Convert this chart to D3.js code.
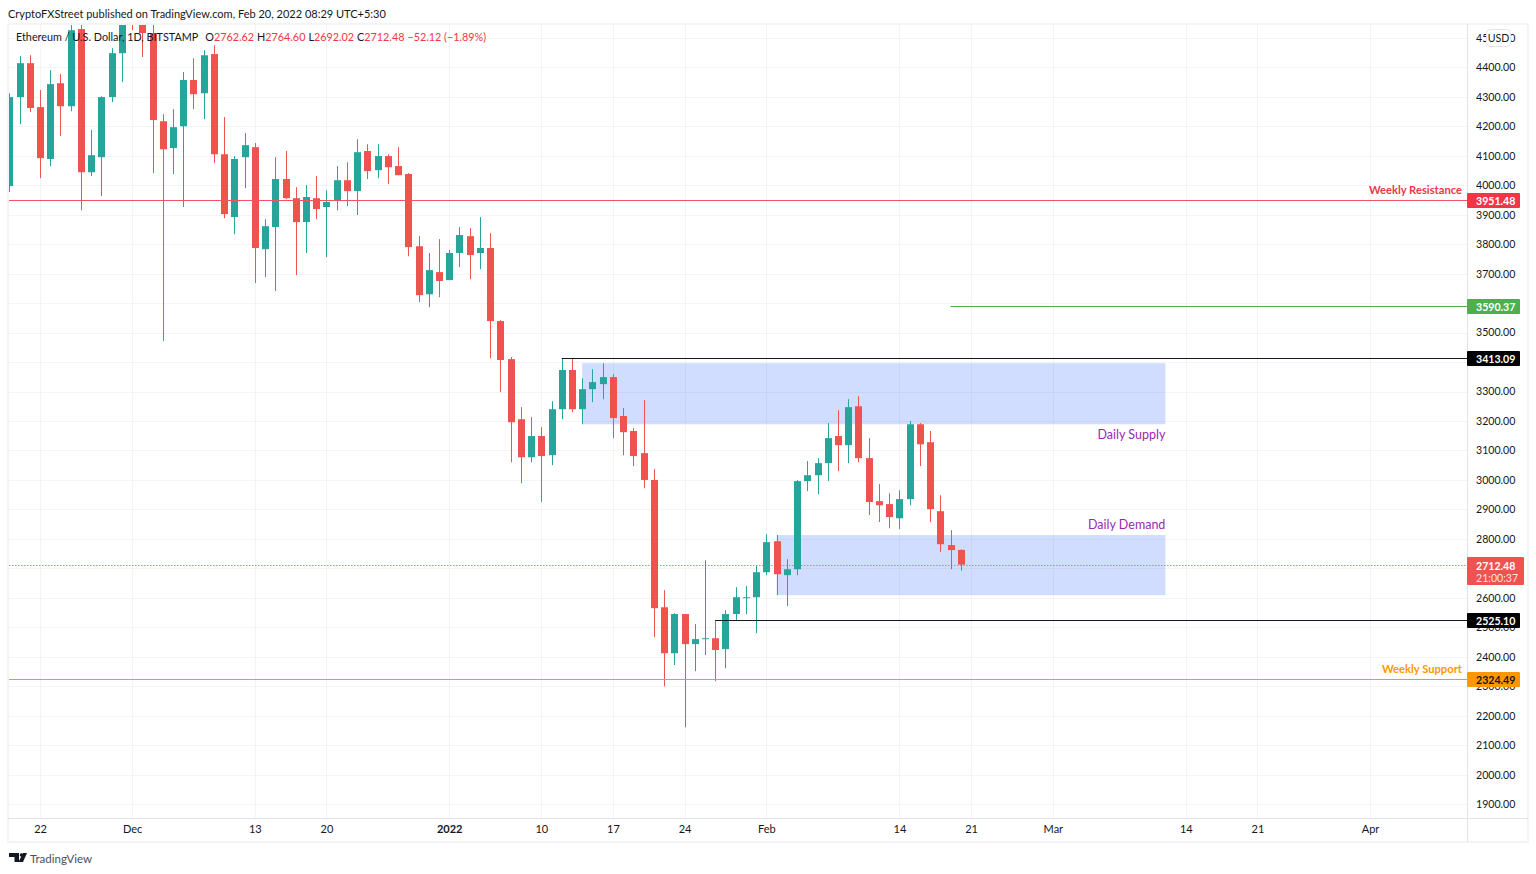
<!DOCTYPE html>
<html lang="en">

<head>
    <meta charset="UTF-8">
    <title>ETH/USD daily</title>
    <script src="https://cdn.jsdelivr.net/npm/d3@7"></script>
    <style>
        html, body { margin: 0; padding: 0; background: #fff; }
        svg { display: block; }
        text { font-family: Lato, sans-serif; }
    </style>
</head>

<body>
    <svg width="1536" height="874"></svg>

    <script>
        const firstDay = Date.UTC(2021, 10, 19);

        // one entry per day, Nov 19 2021 to Feb 20 2022
        const opens = [3997, 4299, 4414, 4265, 4089, 4346, 4268, 4530, 4044, 4095, 4299, 4448,
            4630, 4590, 4516, 4217, 4126, 4200, 4357, 4312, 4445, 4105, 3892, 4095, 4129, 3783, 3858, 4021,
            3956, 3875, 3956, 3926, 3949, 4017, 3980, 4116, 4051, 4099, 4065, 4038, 3793, 3630, 3705,
            3678, 3770, 3827, 3770, 3787, 3539, 3410, 3206, 3077, 3149, 3084, 3240, 3373, 3240, 3308, 3325,
            3349, 3217, 3166, 3091, 3000, 2568, 2412, 2545, 2443, 2460, 2463, 2426, 2545, 2599, 2602,
            2687, 2792, 2677, 2697, 2996, 3016, 3057, 3149, 3118, 3250, 3074, 2928, 2918, 2870, 2935,
            3189, 3128, 2894, 2779, 2762.62];
        const highs = [4312, 4438, 4441, 4323, 4390, 4377, 4560, 4560, 4187, 4302, 4465, 4750,
            4780, 4620, 4650, 4241, 4258, 4384, 4431, 4458, 4475, 4231, 4099, 4177, 4143, 3885, 4095, 4116,
            3993, 4000, 4031, 3983, 4065, 4078, 4156, 4139, 4139, 4105, 4129, 4041, 3827, 3770, 3817,
            3780, 3858, 3854, 3892, 3837, 3542, 3417, 3247, 3213, 3179, 3267, 3413, 3413, 3345, 3376, 3396,
            3359, 3244, 3176, 3271, 3037, 2626, 2548, 2545, 2511, 2728, 2524, 2558, 2636, 2640, 2708,
            2816, 2813, 2731, 3000, 3064, 3074, 3193, 3237, 3274, 3284, 3142, 2986, 2955, 2965, 3200,
            3193, 3166, 2948, 2830, 2764.60];
        const lows = [3977, 4207, 4248, 4024, 4065, 4167, 4251, 3915, 4031, 3963, 4282, 4350,
            4526, 4435, 4041, 3471, 4038, 3926, 4258, 4224, 4075, 3888, 3834, 3990, 3668, 3688, 3641, 3953,
            3695, 3770, 3885, 3756, 3915, 3929, 3899, 4021, 4024, 4004, 4034, 3759, 3603, 3586, 3620,
            3678, 3722, 3681, 3715, 3413, 3298, 3060, 2989, 3060, 2925, 3050, 3206, 3230, 3189, 3264, 3274,
            3142, 3084, 3047, 2972, 2467, 2300, 2372, 2161, 2351, 2406, 2317, 2361, 2521, 2545, 2480,
            2677, 2609, 2572, 2677, 2962, 2952, 2996, 3030, 3057, 3060, 2881, 2857, 2836, 2833, 2914,
            3047, 2857, 2755, 2697, 2692.02];
        const closes = [4299, 4414, 4262, 4092, 4343, 4268, 4526, 4044, 4102, 4299, 4448, 4630,
            4590, 4516, 4221, 4122, 4197, 4357, 4309, 4441, 4105, 3902, 4089, 4136, 3787, 3861, 4021, 3956,
            3875, 3960, 3919, 3943, 4017, 3980, 4112, 4048, 4099, 4061, 4034, 3790, 3627, 3712, 3675,
            3770, 3831, 3763, 3787, 3539, 3407, 3196, 3077, 3149, 3081, 3240, 3373, 3240, 3308, 3332, 3349,
            3210, 3162, 3081, 3000, 2565, 2412, 2545, 2443, 2460, 2463, 2423, 2545, 2602, 2602, 2687,
            2789, 2680, 2697, 2996, 3016, 3057, 3142, 3118, 3247, 3074, 2925, 2914, 2874, 2935, 3189,
            3121, 2901, 2782, 2762, 2712.48];

        const priceTicks = d3.range(1900, 4501, 100);
        // these labels sit fully behind a price badge
        const coveredTicks = [2700, 3400, 3600];
        const timeTicks = [[2021, 10, 22], [2021, 11, 1], [2021, 11, 13], [2021, 11, 20], [2022, 0, 1],
            [2022, 0, 10], [2022, 0, 17], [2022, 0, 24], [2022, 1, 1], [2022, 1, 14], [2022, 1, 21],
            [2022, 2, 1], [2022, 2, 14], [2022, 2, 21], [2022, 3, 1]].map(d => new Date(Date.UTC(...d)));
        const timeLabels = ["22", "Dec", "13", "20", "2022", "10", "17", "24", "Feb", "14", "21", "Mar", "14", "21", "Apr"];

        // key levels: full width ones have no start date
        const levelNames = ["Weekly Resistance", "", "", "", "Weekly Support"];
        const levelPrices = [3951.48, 3590.37, 3413.09, 2525.10, 2324.49];
        const levelStarts = [null, Date.UTC(2022, 1, 19), Date.UTC(2022, 0, 12), Date.UTC(2022, 0, 27), null];
        const levelColors = ["#f7525f", "#4caf50", "#131722", "#131722", "#ff9800"];
        const levelBadges = ["#f23645", "#4caf50", "#000000", "#000000", "#ff9800"];
        const levelLabelColors = ["#f23645", "", "", "", "#ff9800"];
        const levelTextColors = ["#fff", "#fff", "#fff", "#fff", "#131722"];

        const zoneNames = ["Daily Supply", "Daily Demand"];
        const zoneTops = [3396, 2813];
        const zoneBottoms = [3189, 2609];
        const zoneStarts = [Date.UTC(2022, 0, 14), Date.UTC(2022, 1, 2)];
        const zoneEnd = Date.UTC(2022, 2, 12);
        const zoneLabelTop = [false, true];

        const up = "#26a69a";
        const down = "#ef5350";
        const grid = "#f3f4f7";
        const border = "#e0e3eb";
        const axisText = "#131722";

        const plotLeft = 9, plotRight = 1467, plotTop = 24, plotBottom = 818, frameBottom = 842, frameRight = 1528;

        const svg = d3.select("svg");

        const x = d3.scaleUtc()
            .domain([new Date(Date.UTC(2021, 10, 22)), new Date(Date.UTC(2022, 3, 1))])
            .range([40, 1370]);
        const y = d3.scaleLinear().domain([4547, 1853]).range([plotTop, plotBottom]);

        const dayDate = i => new Date(firstDay + i * 864e5);
        const bodyWidth = 7;

        svg.append("defs").append("clipPath").attr("id", "plot")
            .append("rect")
            .attr("x", plotLeft).attr("y", plotTop)
            .attr("width", plotRight - plotLeft).attr("height", plotBottom - plotTop);

        // grid
        const gridG = svg.append("g").attr("stroke", grid).attr("stroke-width", 1);
        gridG.selectAll(".gy").data(priceTicks).enter().append("line")
            .attr("x1", plotLeft).attr("x2", plotRight)
            .attr("y1", d => Math.round(y(d)) + .5).attr("y2", d => Math.round(y(d)) + .5);
        gridG.selectAll(".gx").data(timeTicks).enter().append("line")
            .attr("y1", plotTop).attr("y2", plotBottom)
            .attr("x1", d => Math.round(x(d)) + .5).attr("x2", d => Math.round(x(d)) + .5);

        const plot = svg.append("g").attr("clip-path", "url(#plot)");

        // supply and demand boxes
        plot.selectAll(".zone").data(zoneNames).enter().append("rect")
            .attr("class", "zone")
            .attr("x", (d, i) => x(new Date(zoneStarts[i])))
            .attr("width", (d, i) => x(new Date(zoneEnd)) - x(new Date(zoneStarts[i])))
            .attr("y", (d, i) => y(zoneTops[i]))
            .attr("height", (d, i) => y(zoneBottoms[i]) - y(zoneTops[i]))
            .attr("fill", "#2962ff").attr("fill-opacity", 0.22);

        // candles
        const candles = plot.selectAll(".candle").data(opens).enter().append("g").attr("class", "candle");
        candles.append("line")
            .attr("x1", (d, i) => Math.round(x(dayDate(i))) + .5)
            .attr("x2", (d, i) => Math.round(x(dayDate(i))) + .5)
            .attr("y1", (d, i) => y(highs[i]))
            .attr("y2", (d, i) => y(lows[i]))
            .attr("stroke", (d, i) => closes[i] >= opens[i] ? up : down);
        candles.append("rect")
            .attr("x", (d, i) => Math.round(x(dayDate(i))) + .5 - bodyWidth / 2)
            .attr("width", bodyWidth)
            .attr("y", (d, i) => y(Math.max(opens[i], closes[i])))
            .attr("height", (d, i) => Math.max(1, Math.abs(y(opens[i]) - y(closes[i]))))
            .attr("fill", (d, i) => closes[i] >= opens[i] ? up : down);

        // key levels
        plot.selectAll(".level").data(levelPrices).enter().append("line")
            .attr("class", "level")
            .attr("x1", (d, i) => levelStarts[i] ? x(new Date(levelStarts[i])) : plotLeft)
            .attr("x2", plotRight)
            .attr("y1", d => Math.round(y(d)) + .5)
            .attr("y2", d => Math.round(y(d)) + .5)
            .attr("stroke", (d, i) => levelColors[i]);

        // last price
        const lastClose = closes[closes.length - 1];
        plot.append("line")
            .attr("x1", plotLeft).attr("x2", plotRight)
            .attr("y1", Math.round(y(lastClose)) + .5).attr("y2", Math.round(y(lastClose)) + .5)
            .attr("stroke", down).attr("stroke-opacity", .75).attr("stroke-dasharray", "1.5 1.5");

        // frame
        svg.append("rect").attr("x", 8).attr("y", 24).attr("width", frameRight - 8).attr("height", frameBottom - 24)
            .attr("fill", "none").attr("stroke", grid).attr("stroke-width", 2);
        svg.append("line").attr("x1", plotRight + .5).attr("x2", plotRight + .5).attr("y1", plotTop).attr("y2", frameBottom)
            .attr("stroke", border);
        svg.append("line").attr("x1", 8).attr("x2", frameRight).attr("y1", plotBottom + .5).attr("y2", plotBottom + .5)
            .attr("stroke", border);

        // axes
        const yAxis = svg.append("g").attr("transform", `translate(${plotRight},0)`)
            .call(d3.axisRight(y).tickValues(priceTicks.filter(d => !coveredTicks.includes(d)))
                .tickFormat(d3.format(".2f")).tickSize(0).tickPadding(9));
        yAxis.select(".domain").remove();
        yAxis.selectAll("text").attr("font-size", 10.6).attr("fill", axisText).style("font-family", "Lato, sans-serif");

        const xAxis = svg.append("g").attr("transform", `translate(0,${plotBottom})`)
            .call(d3.axisBottom(x).tickValues(timeTicks).tickFormat((d, i) => timeLabels[i]).tickSize(0).tickPadding(7));
        xAxis.select(".domain").remove();
        xAxis.selectAll("text").attr("font-size", 11).attr("fill", axisText)
            .style("font-family", "Lato, sans-serif")
            .attr("font-weight", (d, i) => timeLabels[i] === "2022" ? 700 : 400);

        // price badges
        const badges = svg.selectAll(".badge").data(levelPrices).enter().append("g").attr("class", "badge");
        badges.append("rect")
            .attr("x", plotRight).attr("width", 53)
            .attr("y", d => Math.round(y(d)) - 7).attr("height", 15)
            .attr("rx", 1)
            .attr("fill", (d, i) => levelBadges[i]);
        badges.append("text")
            .attr("x", plotRight + 9).attr("y", d => Math.round(y(d)) + 4.5)
            .attr("font-size", 10.6).attr("font-weight", 700)
            .attr("fill", (d, i) => levelTextColors[i])
            .text(d => d.toFixed(2));

        const lastY = Math.round(y(lastClose));
        svg.append("rect").attr("x", plotRight).attr("width", 57).attr("y", lastY - 8).attr("height", 28)
            .attr("rx", 1).attr("fill", down);
        svg.append("text").attr("x", plotRight + 9).attr("y", lastY + 4.5)
            .attr("font-size", 10.6).attr("font-weight", 700).attr("fill", "#fff").text(lastClose.toFixed(2));
        svg.append("text").attr("x", plotRight + 9).attr("y", lastY + 16.5)
            .attr("font-size", 10.6).attr("fill", "#fff").attr("fill-opacity", .85).text("21:00:37");

        // labels over the lines
        svg.selectAll(".lvl-label").data(levelNames).enter().append("text")
            .attr("class", "lvl-label")
            .attr("x", 1462).attr("y", (d, i) => y(levelPrices[i]) - 6)
            .attr("text-anchor", "end").attr("font-size", 11.2).attr("font-weight", 700)
            .attr("fill", (d, i) => levelLabelColors[i])
            .text(d => d);

        svg.selectAll(".zone-label").data(zoneNames).enter().append("text")
            .attr("class", "zone-label")
            .attr("x", (d, i) => x(new Date(zoneEnd)))
            .attr("y", (d, i) => zoneLabelTop[i] ? y(zoneTops[i]) - 6 : y(zoneBottoms[i]) + 15)
            .attr("text-anchor", "end").attr("font-size", 12.5)
            .attr("fill", "#9c27b0")
            .text(d => d);

        // USD button
        svg.append("rect").attr("x", 1486.5).attr("y", 29.5).attr("width", 24).attr("height", 17).attr("rx", 4)
            .attr("fill", "#fff").attr("stroke", border);
        svg.append("text").attr("x", 1498.5).attr("y", 42).attr("text-anchor", "middle")
            .attr("font-size", 10.6).attr("fill", axisText).text("USD");

        // header and legend
        svg.append("text").attr("x", 8).attr("y", 18).attr("font-size", 11).attr("fill", "#131722")
            .text("CryptoFXStreet published on TradingView.com, Feb 20, 2022 08:29 UTC+5:30");

        const legend = svg.append("text").attr("x", 16).attr("y", 41).attr("font-size", 10.8).attr("fill", "#131722");
        legend.append("tspan").text("Ethereum / U.S. Dollar, 1D, BITSTAMP");
        const legendValues = [["O", opens], ["H", highs], ["L", lows], ["C", closes]];
        legendValues.forEach((d, i) => {
            legend.append("tspan").attr("dx", i === 0 ? 7 : 3).text(d[0]);
            legend.append("tspan").attr("fill", "#f23645").text(d[1][d[1].length - 1].toFixed(2));
        });
        legend.append("tspan").attr("dx", 3).attr("fill", "#f23645").text("−52.12 (−1.89%)");

        // logo
        const logo = svg.append("g").attr("fill", "#131722");
        logo.append("path").attr("d", "M9 853h10v9h-4.5v-5H9z");
        logo.append("circle").attr("cx", 21.5).attr("cy", 855).attr("r", 1.8);
        logo.append("path").attr("d", "M23 853h4l-4 9h-4.5z");
        svg.append("text").attr("x", 30).attr("y", 862.5).attr("font-size", 11.5).attr("fill", "#4a4e59").text("TradingView");
    </script>
</body>

</html>
